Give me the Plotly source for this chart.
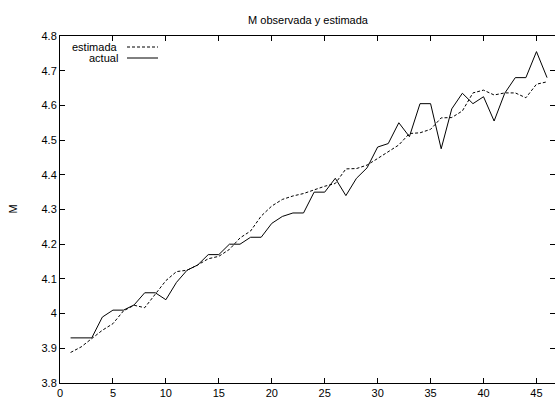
import plotly.graph_objects as go

# Observed vs. estimated M, periods 1..46
periodo = list(range(1, 47))
actual = [3.93, 3.93, 3.93, 3.99, 4.01, 4.01, 4.025, 4.06, 4.06, 4.04,
          4.09, 4.125, 4.14, 4.17, 4.17, 4.20, 4.20, 4.22, 4.22, 4.26,
          4.28, 4.29, 4.29, 4.35, 4.35, 4.39, 4.34, 4.39, 4.42, 4.48,
          4.49, 4.55, 4.51, 4.605, 4.605, 4.475, 4.59, 4.635, 4.605, 4.625,
          4.555, 4.635, 4.68, 4.68, 4.755, 4.68]
estimada = [3.888, 3.904, 3.928, 3.952, 3.971, 4.008, 4.024, 4.017, 4.056, 4.095,
            4.121, 4.125, 4.14, 4.158, 4.165, 4.185, 4.218, 4.238, 4.281, 4.31,
            4.329, 4.339, 4.346, 4.357, 4.367, 4.375, 4.417, 4.418, 4.428, 4.447,
            4.466, 4.486, 4.519, 4.521, 4.531, 4.564, 4.565, 4.584, 4.636, 4.644,
            4.630, 4.636, 4.636, 4.622, 4.661, 4.668]
x_ticks = [0, 5, 10, 15, 20, 25, 30, 35, 40, 45]
y_ticks = [3.8, 3.9, 4.0, 4.1, 4.2, 4.3, 4.4, 4.5, 4.6, 4.7, 4.8]
y_tick_labels = ["3.8", "3.9", "4", "4.1", "4.2", "4.3", "4.4", "4.5", "4.6", "4.7", "4.8"]
series_names = ["estimada", "actual"]

FONT = "Liberation Sans, Arial, Helvetica, sans-serif"
W, H = 555, 398
ML, MT, MB, MR = 60, 36, 15, 0
PW, PH = W - ML - MR, H - MT - MB

fig = go.Figure()
fig.add_trace(go.Scatter(x=periodo, y=estimada, mode="lines", name=series_names[0],
                         line=dict(color="black", width=1, dash="3px,2px"),
                         showlegend=False))
fig.add_trace(go.Scatter(x=periodo, y=actual, mode="lines", name=series_names[1],
                         line=dict(color="black", width=1),
                         showlegend=False))

# gnuplot-style key: label text followed by a line sample
def px_x(p):
    return (p - ML) / PW

def px_y(p):
    return (H - MB - p) / PH

key_rows = [(series_names[0], "3px,2px", 47), (series_names[1], "solid", 58)]
for label, dash, ypx in key_rows:
    fig.add_annotation(x=px_x(120), y=px_y(ypx), xref="paper", yref="paper",
                       text=label, showarrow=False, xanchor="right", yanchor="middle",
                       font=dict(family=FONT, size=11, color="black"))
    fig.add_shape(type="line", xref="paper", yref="paper",
                  x0=px_x(127), x1=px_x(158), y0=px_y(ypx), y1=px_y(ypx),
                  line=dict(color="black", width=1, dash=dash))

# rotated y-axis label
fig.add_annotation(x=0, y=0.5, xref="paper", yref="paper", xshift=-48,
                   text="M", textangle=-90, showarrow=False,
                   xanchor="center", yanchor="middle",
                   font=dict(family=FONT, size=11, color="black"))

axis_common = dict(showgrid=False, zeroline=False, showline=True, linecolor="black",
                   linewidth=1, ticks="inside", ticklen=5, tickwidth=1,
                   tickcolor="black", mirror="ticks", automargin=False,
                   tickfont=dict(family=FONT, size=11, color="black"))

fig.update_layout(
    width=W, height=H,
    margin=dict(l=ML, r=MR, t=MT, b=MB, pad=0),
    paper_bgcolor="white", plot_bgcolor="white",
    title=dict(text="M observada y estimada", x=(308 - 0) / W, xanchor="center",
               y=1 - 20 / H, yanchor="middle",
               font=dict(family=FONT, size=11, color="black")),
    xaxis=dict(range=[0, 46.75], tickvals=x_ticks, **axis_common),
    yaxis=dict(range=[3.8, 4.8], tickvals=y_ticks, ticktext=y_tick_labels,
               **axis_common),
)

fig.write_html("out.html")
